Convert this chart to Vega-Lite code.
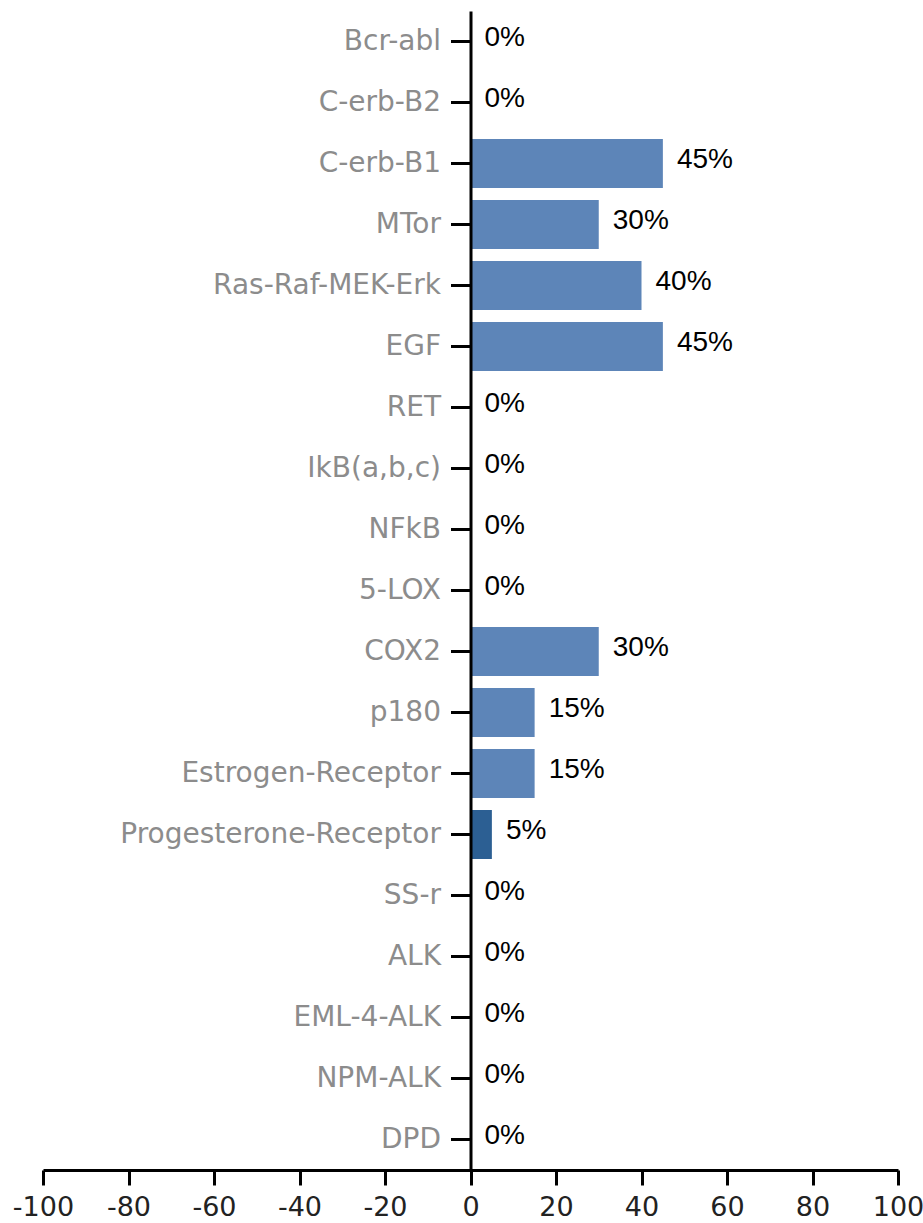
{
  "$schema": "https://vega.github.io/schema/vega-lite/v6.json",
  "autosize": {"type": "none"},
  "padding": {"left": 43, "top": 11, "right": 25, "bottom": 53},
  "width": 855,
  "height": 1159,
  "background": "white",
  "config": {"view": {"stroke": null}},
  "data": {
    "values": [
      {"name": "Bcr-abl", "value": 0, "label": "0%"},
      {"name": "C-erb-B2", "value": 0, "label": "0%"},
      {"name": "C-erb-B1", "value": 45, "label": "45%"},
      {"name": "MTor", "value": 30, "label": "30%"},
      {"name": "Ras-Raf-MEK-Erk", "value": 40, "label": "40%"},
      {"name": "EGF", "value": 45, "label": "45%"},
      {"name": "RET", "value": 0, "label": "0%"},
      {"name": "IkB(a,b,c)", "value": 0, "label": "0%"},
      {"name": "NFkB", "value": 0, "label": "0%"},
      {"name": "5-LOX", "value": 0, "label": "0%"},
      {"name": "COX2", "value": 30, "label": "30%"},
      {"name": "p180", "value": 15, "label": "15%"},
      {"name": "Estrogen-Receptor", "value": 15, "label": "15%"},
      {"name": "Progesterone-Receptor", "value": 5, "label": "5%"},
      {"name": "SS-r", "value": 0, "label": "0%"},
      {"name": "ALK", "value": 0, "label": "0%"},
      {"name": "EML-4-ALK", "value": 0, "label": "0%"},
      {"name": "NPM-ALK", "value": 0, "label": "0%"},
      {"name": "DPD", "value": 0, "label": "0%"}
    ]
  },
  "encoding": {
    "y": {
      "field": "name",
      "type": "nominal",
      "sort": null,
      "scale": {"paddingInner": 0.2, "paddingOuter": 0.1},
      "axis": {
        "title": null,
        "offset": -427.5,
        "domainColor": "black",
        "domainWidth": 3,
        "tickColor": "black",
        "tickWidth": 3,
        "tickSize": 20,
        "labelPadding": 10,
        "labelLimit": 0,
        "labelFont": "DejaVu Sans",
        "labelFontSize": 28,
        "labelColor": "#8c8c8c",
        "zindex": 1
      }
    },
    "x": {
      "field": "value",
      "type": "quantitative",
      "scale": {"domain": [-100, 100], "nice": false, "zero": false},
      "axis": {
        "title": null,
        "values": [-100, -80, -60, -40, -20, 0, 20, 40, 60, 80, 100],
        "labelExpr": "datum.value < 0 ? '-' + abs(datum.value) : '' + datum.value",
        "grid": false,
        "domainColor": "black",
        "domainWidth": 3,
        "tickColor": "black",
        "tickWidth": 3,
        "tickSize": 15,
        "labelPadding": 9,
        "labelFont": "DejaVu Sans",
        "labelFontSize": 27,
        "labelColor": "#222222",
        "labelOverlap": false,
        "labelFlush": false
      }
    }
  },
  "layer": [
    {
      "mark": {"type": "bar"},
      "encoding": {
        "color": {
          "condition": {"test": "datum.name === 'Progesterone-Receptor'", "value": "#2c5f93"},
          "value": "#5d85b8"
        }
      }
    },
    {
      "mark": {
        "type": "text",
        "align": "left",
        "baseline": "alphabetic",
        "dx": 14,
        "dy": 4,
        "font": "Liberation Sans",
        "fontSize": 28,
        "color": "black"
      },
      "encoding": {"text": {"field": "label"}}
    }
  ]
}
